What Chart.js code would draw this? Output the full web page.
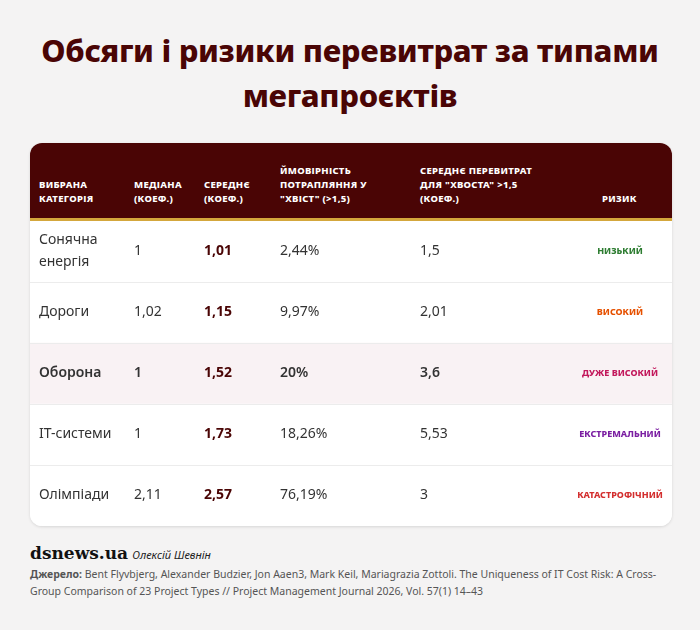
<!DOCTYPE html>
<html><head><meta charset="utf-8">
<script src="https://cdn.jsdelivr.net/npm/chart.js@4"></script>
<style>
body{margin:0;background:#f4f3f3;font-family:"Noto Sans",sans-serif;width:700px;height:630px;position:relative;overflow:hidden}
h1{position:absolute;top:28px;left:0;width:700px;margin:0;text-align:center;color:#4a0505;font-size:31px;line-height:45px;font-weight:800;letter-spacing:-.3px}
#card{position:absolute;left:30px;top:143px;width:642px;height:383px;background:#fff;border-radius:12px;box-shadow:0 1px 3px rgba(0,0,0,.12);overflow:hidden}
#head{position:absolute;left:0;top:0;width:642px;height:75px;background:#4a0505;border-bottom:3px solid #d4a73c}
#head div{position:absolute;bottom:12px;color:#fff;font-size:9.5px;font-weight:800;line-height:14px;letter-spacing:.3px}
#wrap{position:absolute;left:0;top:78px;width:642px;height:305px}
#foot{position:absolute;left:30px;top:542px;width:650px}
.brand{font-family:"DejaVu Serif",serif;font-weight:bold;font-size:17px;color:#111}
.auth{font-style:italic;font-size:11px;color:#222}
.src{font-size:10.5px;color:#555;line-height:17px;margin-top:2px}
</style></head><body>
<h1>Обсяги і ризики перевитрат за типами<br>мегапроєктів</h1>
<div id="card">
  <div id="head"></div>
  <div id="wrap"><canvas id="tbl"></canvas></div>
</div>
<div id="foot">
  <span class="brand">dsnews.ua</span> <span class="auth">Олексій Шевнін</span>
  <div class="src"><b>Джерело:</b> Bent Flyvbjerg, Alexander Budzier, Jon Aaen3, Mark Keil, Mariagrazia Zottoli. The Uniqueness of IT Cost Risk: A Cross-Group Comparison of 23 Project Types // Project Management Journal 2026, Vol. 57(1) 14–43</div>
</div>
<script>
// Column headers
const headers = ['ВИБРАНА\nКАТЕГОРІЯ', 'МЕДІАНА\n(КОЕФ.)', 'СЕРЕДНЄ\n(КОЕФ.)', 'ЙМОВІРНІСТЬ\nПОТРАПЛЯННЯ У\n"ХВІСТ" (>1,5)', 'СЕРЕДНЄ ПЕРЕВИТРАТ\nДЛЯ "ХВОСТА" >1,5\n(КОЕФ.)', 'РИЗИК'];
// Table data
const categories = ['Сонячна\nенергія', 'Дороги', 'Оборона', 'IT-системи', 'Олімпіади'];
const medians = ['1', '1,02', '1', '1', '2,11'];
const means = ['1,01', '1,15', '1,52', '1,73', '2,57'];
const tailProb = ['2,44%', '9,97%', '20%', '18,26%', '76,19%'];
const tailMean = ['1,5', '2,01', '3,6', '5,53', '3'];
const risks = ['НИЗЬКИЙ', 'ВИСОКИЙ', 'ДУЖЕ ВИСОКИЙ', 'ЕКСТРЕМАЛЬНИЙ', 'КАТАСТРОФІЧНИЙ'];
const riskColors = ['#2e7d32', '#e65100', '#c2185b', '#7b1fa2', '#d32f2f'];
const highlightRow = 2;

// column x positions (px inside card) and header placement
const colX = [9, 104, 174, 250, 390, 590];
const head = document.getElementById('head');
headers.forEach((h, i) => {
    let d = document.createElement('div');
    d.innerHTML = h.replace(/\n/g, '<br>');
    d.style.left = (i === 5 ? colX[i] - 18 : colX[i]) + 'px';
    head.appendChild(d);
});

// draws row separators and cell texts at the row centres given by the y scale
const cellText = {
    id: 'cellText',
    afterDatasetsDraw(chart) {
        const ctx = chart.ctx;
        const y = chart.scales.y;
        const area = chart.chartArea;
        ctx.save();
        ctx.strokeStyle = '#ececec';
        ctx.lineWidth = 1;
        for (let i = 0; i < categories.length - 1; i++) {
            const ly = Math.round((y.getPixelForValue(i) + y.getPixelForValue(i + 1)) / 2) + 0.5;
            ctx.beginPath();
            ctx.moveTo(area.left, ly);
            ctx.lineTo(area.right, ly);
            ctx.stroke();
        }
        ctx.textBaseline = 'middle';
        categories.forEach((c, i) => {
            const cy = y.getPixelForValue(i);
            const bold = i === highlightRow;
            ctx.fillStyle = '#333';
            ctx.textAlign = 'left';
            ctx.font = (bold ? '600 ' : '400 ') + '14px "Noto Sans"';
            const lines = c.split('\n');
            lines.forEach((l, k) => ctx.fillText(l, colX[0], cy + (k - (lines.length - 1) / 2) * 22));
            ctx.fillText(medians[i], colX[1], cy);
            ctx.fillText(tailProb[i], colX[3], cy);
            ctx.fillText(tailMean[i], colX[4], cy);
            ctx.font = '700 14px "Noto Sans"';
            ctx.fillStyle = '#4a0505';
            ctx.fillText(means[i], colX[2], cy);
            ctx.font = '800 9px "Noto Sans"';
            ctx.fillStyle = riskColors[i];
            ctx.textAlign = 'center';
            ctx.fillText(risks[i], colX[5], cy);
        });
        ctx.restore();
    }
};

new Chart(document.getElementById('tbl'), {
    type: 'bar',
    data: {
        labels: categories,
        datasets: [{
            data: categories.map(() => [0, 1]),
            backgroundColor: categories.map((c, i) => i === highlightRow ? '#f9f2f4' : '#ffffff'),
            barPercentage: 1,
            categoryPercentage: 1
        }]
    },
    options: {
        indexAxis: 'y',
        responsive: true,
        maintainAspectRatio: false,
        animation: false,
        layout: { padding: 0 },
        plugins: { legend: { display: false }, tooltip: { enabled: false } },
        scales: {
            x: { display: false, min: 0, max: 1 },
            y: { display: false }
        }
    },
    plugins: [cellText]
});
</script>
</body></html>
